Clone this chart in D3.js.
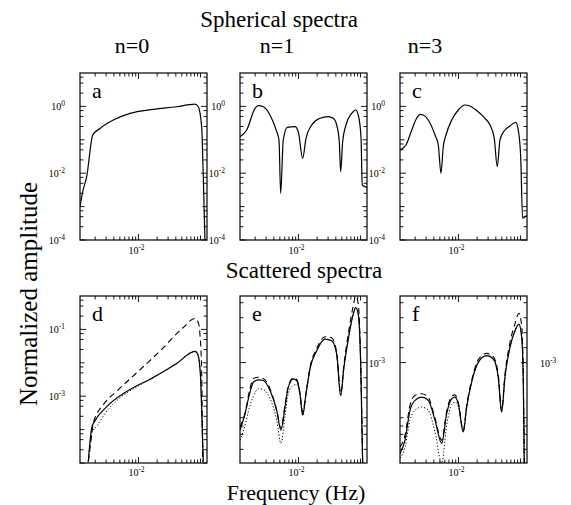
<!DOCTYPE html>
<html>
<head>
<meta charset="utf-8">
<script src="https://cdn.jsdelivr.net/npm/d3@7"></script>
<style>
  body { margin: 0; background: #fff; }
  svg { display: block; font-family: "Liberation Serif", "DejaVu Serif", serif; }
</style>
</head>
<body>
<svg id="chart" width="571" height="505"></svg>
<script>
//

// values, kept as log10 exponents (frequency in Hz, normalized amplitude)

const columnTitles = ['n=0', 'n=1', 'n=3']

const xTickSteps = [1, 2, 3, 4, 5, 6, 7, 8, 9]
const xTickDecades = [-3, -2, -1]
const xLabelExps = [-2]

const yTickSteps = [1, 2.5, 5, 7.5]
const topLabelExps = [0, -2, -4]
const dLabelExps = [-1, -3]
const fLabelExps = [-3]
const efTickExps = [-2.101, -2.326, -2.551, -2.776, -3, -3.827, -3.952, -4.077, -4.302]
const eExtraTickExps = [-3.227, -3.377, -3.527]

// a : n=0 spherical
const logFreqA = [-2.944, -2.9, -2.836, -2.739, -2.621, -2.407, -2.138, -1.762, -1.384, -1.089, -1.036, -0.981, -0.955, -0.928]
const logAmpA = [-3.0, -2.55, -2.1, -0.86, -0.66, -0.41, -0.21, -0.09, -0.01, 0.07, -0.01, -0.61, -2.1, -4.0]

// b : n=1 spherical
const logFreqB = [-2.944, -2.836, -2.702, -2.649, -2.568, -2.460, -2.352, -2.315, -2.288, -2.246, -2.181, -2.057, -2.004, -1.933, -1.879, -1.788, -1.654, -1.520, -1.439, -1.384, -1.342, -1.320, -1.288, -1.234, -1.142, -1.078, -1.036, -0.992, -0.971, -0.928, -0.880]
const logAmpB = [-0.907, -0.707, -0.057, 0.021, -0.009, -0.257, -0.757, -1.006, -2.602, -1.006, -0.626, -0.608, -0.757, -1.554, -0.955, -0.557, -0.356, -0.308, -0.356, -0.557, -1.057, -1.955, -1.057, -0.557, -0.207, -0.108, -0.257, -0.907, -2.353, -2.404, -2.434]

// c : n=3 spherical
const logFreqC = [-2.944, -2.847, -2.755, -2.675, -2.621, -2.568, -2.488, -2.379, -2.326, -2.283, -2.246, -2.202, -2.110, -2.004, -1.896, -1.815, -1.734, -1.573, -1.492, -1.423, -1.375, -1.331, -1.251, -1.170, -1.078, -1.036, -0.997, -0.965, -0.928, -0.900]
const logAmpC = [-1.305, -1.156, -0.707, -0.356, -0.237, -0.257, -0.407, -0.856, -1.156, -2.003, -1.207, -0.856, -0.407, -0.108, 0.042, 0.012, -0.087, -0.356, -0.557, -0.955, -1.805, -1.006, -0.707, -0.587, -0.476, -0.707, -1.506, -3.350, -3.302, -3.266]

// d : n=0 scattered (solid, dashed, dotted)
const logFreqD = [-2.810, -2.755, -2.702, -2.513, -2.191, -1.762, -1.384, -1.089, -1.052, -1.020, -0.997, -0.976, -0.955]
const logAmpDSolid = [-4.961, -3.946, -3.735, -3.313, -2.861, -2.440, -2.018, -1.657, -1.717, -1.958, -2.5, -3.705, -4.961]
const logFreqDDash = [-2.810, -2.755, -2.729, -2.568, -2.352, -2.029, -1.654, -1.278, -1.089, -1.036, -1.009, -0.981, -0.965]
const logAmpDDash = [-4.961, -4.157, -3.804, -3.253, -2.852, -2.298, -1.648, -0.943, -0.672, -0.792, -1.145, -2.250, -4.961]
const logFreqDDot = [-2.810, -2.755, -2.675, -2.513, -2.299, -2.029, -1.762, -1.384, -1.089, -1.052, -1.020, -0.997, -0.976, -0.955]
const logAmpDDot = [-4.961, -4.10, -3.90, -3.45, -3.05, -2.72, -2.44, -2.018, -1.657, -1.717, -1.958, -2.5, -3.705, -4.961]

// e : n=1 scattered
const logFreqE = [-2.944, -2.863, -2.783, -2.729, -2.649, -2.568, -2.460, -2.352, -2.283, -2.218, -2.165, -2.084, -2.029, -1.976, -1.933, -1.879, -1.815, -1.707, -1.573, -1.465, -1.384, -1.320, -1.267, -1.197, -1.117, -1.078, -1.036, -0.997, -0.965]
const logAmpESolid = [-4.015, -3.766, -3.443, -3.294, -3.258, -3.269, -3.418, -3.716, -4.015, -3.667, -3.369, -3.243, -3.269, -3.467, -3.791, -3.467, -3.094, -2.821, -2.646, -2.672, -2.870, -3.493, -3.070, -2.646, -2.273, -2.175, -2.273, -3.019, -4.507]
const logAmpEDash = [-3.966, -3.76, -3.39, -3.24, -3.219, -3.239, -3.39, -3.716, -3.985, -3.64, -3.358, -3.231, -3.254, -3.46, -3.746, -3.46, -3.075, -2.791, -2.612, -2.627, -2.851, -3.463, -3.03, -2.567, -2.149, -2.0, -2.119, -2.97, -4.507]
const logAmpEDot = [-4.164, -3.940, -3.642, -3.507, -3.393, -3.403, -3.537, -3.866, -4.213, -3.806, -3.463, -3.343, -3.328, -3.493, -3.791, -3.467, -3.094, -2.821, -2.646, -2.672, -2.870, -3.493, -3.070, -2.646, -2.273, -2.175, -2.273, -3.019, -4.507]

// f : n=3 scattered
const logFreqF = [-2.944, -2.863, -2.783, -2.702, -2.594, -2.488, -2.379, -2.271, -2.191, -2.110, -2.057, -2.004, -1.923, -1.868, -1.788, -1.681, -1.546, -1.439, -1.359, -1.304, -1.251, -1.170, -1.089, -1.025, -0.981, -0.955, -0.939]
const logAmpFSolid = [-4.363, -4.164, -3.716, -3.567, -3.518, -3.567, -3.866, -4.213, -3.766, -3.542, -3.518, -3.616, -4.040, -3.667, -3.294, -2.996, -2.896, -2.945, -3.219, -3.742, -3.219, -2.772, -2.522, -2.422, -2.622, -3.269, -4.507]
const logAmpFDash = [-4.264, -4.090, -3.642, -3.493, -3.467, -3.522, -3.836, -4.164, -3.731, -3.507, -3.485, -3.597, -4.015, -3.642, -3.269, -2.955, -2.861, -2.910, -3.179, -3.716, -3.179, -2.701, -2.418, -2.258, -2.448, -3.194, -4.507]
const logAmpFDot = [-4.433, -4.269, -3.866, -3.716, -3.667, -3.716, -4.045, -4.507, -3.940, -3.627, -3.593, -3.657, -4.040, -3.667, -3.294, -2.996, -2.896, -2.945, -3.219, -3.742, -3.219, -2.772, -2.522, -2.422, -2.622, -3.269, -4.507]

//

const svg = d3.select('#chart')

const colLeft = [80, 240, 400]
const panelWidth = 127
const rows = [{ top: 73, bottom: 240 }, { top: 296, bottom: 463 }]
const xDomainExp = [-2.944, -0.895]

const dashStyles = {
  solid: { dash: null, width: 1.2 },
  dash: { dash: '6,4', width: 1.1 },
  dot: { dash: '1.2,2', width: 1 }
}

const pow10 = (e) => Math.pow(10, e)

const decadeTicks = (decades, steps, labelled) => decades.flatMap((d) =>
  steps.map((s) => ({ v: s * pow10(d), major: s === 1 && labelled.includes(d), decade: s === 1 }))
)

const series = (logF, logA, style) => ({ style, points: logF.map((f, i) => [pow10(f), pow10(logA[i])]) })

const topYTicks = decadeTicks([-4, -3, -2, -1, 0], yTickSteps, topLabelExps)

const panels = [
  { letter: 'a', col: 0, row: 0, yExp: [-4, 1], yTicks: topYTicks, leftLabels: topLabelExps,
    lines: [series(logFreqA, logAmpA, 'solid')] },
  { letter: 'b', col: 1, row: 0, yExp: [-4, 1], yTicks: topYTicks, leftLabels: topLabelExps,
    lines: [series(logFreqB, logAmpB, 'solid')] },
  { letter: 'c', col: 2, row: 0, yExp: [-4, 1], yTicks: topYTicks, leftLabels: topLabelExps,
    lines: [series(logFreqC, logAmpC, 'solid')] },
  { letter: 'd', col: 0, row: 1, yExp: [-5, 0], yTicks: decadeTicks([-5, -4, -3, -2, -1], yTickSteps, dLabelExps), leftLabels: dLabelExps,
    lines: [series(logFreqDDot, logAmpDDot, 'dot'), series(logFreqDDash, logAmpDDash, 'dash'), series(logFreqD, logAmpDSolid, 'solid')] },
  { letter: 'e', col: 1, row: 1, yExp: [-4.507, -2], yTicks: efTickExps.concat(eExtraTickExps).map((e) => ({ v: pow10(e), major: e === -3 })), leftLabels: [],
    lines: [series(logFreqE, logAmpEDot, 'dot'), series(logFreqE, logAmpEDash, 'dash'), series(logFreqE, logAmpESolid, 'solid')] },
  { letter: 'f', col: 2, row: 1, yExp: [-4.507, -2], yTicks: efTickExps.map((e) => ({ v: pow10(e), major: e === -3 })), leftLabels: fLabelExps, rightLabels: fLabelExps,
    lines: [series(logFreqF, logAmpFDot, 'dot'), series(logFreqF, logAmpFDash, 'dash'), series(logFreqF, logAmpFSolid, 'solid')] }
]

const xTicks = decadeTicks(xTickDecades, xTickSteps, xLabelExps)

function powerLabel (g, x, y, exp, anchor) {
  const t = g.append('text')
    .attr('x', x)
    .attr('y', y)
    .attr('text-anchor', anchor)
    .attr('font-size', 10)
    .attr('fill', '#000')
  t.append('tspan').text('10')
  t.append('tspan')
    .attr('dy', -4)
    .attr('font-size', 7.5)
    .text(String(exp))
}

function drawPanel (p, i) {
  const x0 = colLeft[p.col]
  const x1 = x0 + panelWidth
  const { top, bottom } = rows[p.row]

  const x = d3.scaleLog().domain(xDomainExp.map(pow10)).range([x0, x1])
  const y = d3.scaleLog().domain(p.yExp.map(pow10)).range([bottom, top])

  const g = svg.append('g')

  svg.append('clipPath')
    .attr('id', 'clip' + i)
    .append('rect')
    .attr('x', x0).attr('y', top)
    .attr('width', panelWidth).attr('height', bottom - top)

  const line = d3.line()
    .x((d) => x(d[0]))
    .y((d) => y(d[1]))
    .curve(d3.curveMonotoneX)

  g.append('g')
    .attr('clip-path', `url(#clip${i})`)
    .selectAll('path')
    .data(p.lines)
    .join('path')
    .attr('d', (s) => line(s.points))
    .attr('fill', 'none')
    .attr('stroke', '#000')
    .attr('stroke-width', (s) => dashStyles[s.style].width)
    .attr('stroke-dasharray', (s) => dashStyles[s.style].dash)

  // ticks point inward on all four sides
  const xt = xTicks.filter((t) => t.v >= x.domain()[0] && t.v <= x.domain()[1])
  const tickLen = (t) => t.major ? 6 : (t.decade ? 4.5 : 3.5)
  const ticks = g.append('g').attr('stroke', '#000').attr('stroke-width', 0.9)
  xt.forEach((t) => {
    const px = x(t.v)
    ticks.append('line').attr('x1', px).attr('x2', px).attr('y1', bottom).attr('y2', bottom - tickLen(t))
    ticks.append('line').attr('x1', px).attr('x2', px).attr('y1', top).attr('y2', top + tickLen(t))
  })
  const yt = p.yTicks.filter((t) => t.v >= y.domain()[0] * 0.999 && t.v <= y.domain()[1] * 1.001)
  yt.forEach((t) => {
    const py = y(t.v)
    ticks.append('line').attr('x1', x0).attr('x2', x0 + tickLen(t)).attr('y1', py).attr('y2', py)
    ticks.append('line').attr('x1', x1).attr('x2', x1 - tickLen(t)).attr('y1', py).attr('y2', py)
  })

  g.append('rect')
    .attr('x', x0).attr('y', top)
    .attr('width', panelWidth).attr('height', bottom - top)
    .attr('fill', 'none')
    .attr('stroke', '#000')
    .attr('stroke-width', 1.2)

  const xLabelGap = p.row === 0 ? 14 : 13
  xLabelExps.forEach((e) => powerLabel(g, x(pow10(e)) - 2, bottom + xLabelGap, e, 'middle'))
  p.leftLabels.forEach((e) => powerLabel(g, x0 - 15, y(pow10(e)) + 4, e, 'end'))
  ;(p.rightLabels || []).forEach((e) => powerLabel(g, x1 + 13, y(pow10(e)) + 4, e, 'start'))

  g.append('text')
    .attr('x', x0 + 12)
    .attr('y', top + 25)
    .attr('font-size', 22)
    .text(p.letter)
}

panels.forEach(drawPanel)

// titles
const big = (txt, x, y, size) => svg.append('text')
  .attr('x', x).attr('y', y)
  .attr('text-anchor', 'middle')
  .attr('font-size', size)
  .text(txt)

big('Spherical spectra', 279, 27, 23)
const titleX = [132, 277, 425]
columnTitles.forEach((t, i) => big(t, titleX[i], 53, 22))
big('Scattered spectra', 304, 278, 23)
big('Frequency (Hz)', 296, 500, 22)

svg.append('text')
  .attr('transform', 'translate(37,294) rotate(-90)')
  .attr('text-anchor', 'middle')
  .attr('font-size', 25)
  .text('Normalized amplitude')
</script>
</body>
</html>
